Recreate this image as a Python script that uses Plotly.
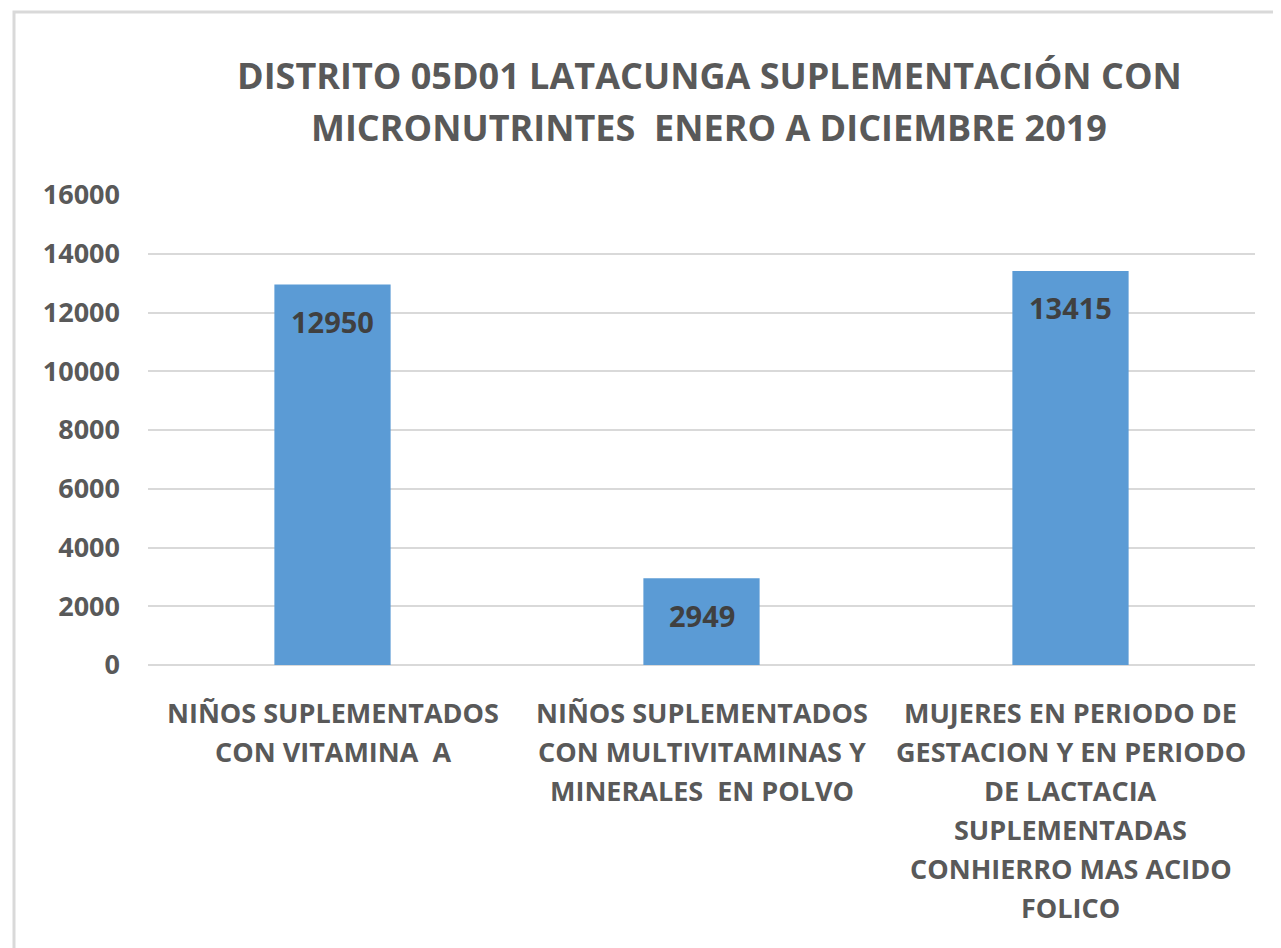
import plotly.graph_objects as go

categories = ["c1", "c2", "c3"]
category_lines = [
    ["NIÑOS SUPLEMENTADOS", "CON VITAMINA  A"],
    ["NIÑOS SUPLEMENTADOS", "CON MULTIVITAMINAS Y", "MINERALES  EN POLVO"],
    ["MUJERES EN PERIODO DE", "GESTACION Y EN PERIODO", "DE LACTACIA",
     "SUPLEMENTADAS", "CONHIERRO MAS ACIDO", "FOLICO"],
]
values = [12950, 2949, 13415]
y_ticks = [0, 2000, 4000, 6000, 8000, 10000, 12000, 14000, 16000]
title_lines = ["DISTRITO 05D01 LATACUNGA SUPLEMENTACIÓN CON",
               "MICRONUTRINTES  ENERO A DICIEMBRE 2019"]

FONT = "Open Sans"
GRAY = "#595959"

# page body has an 8px margin, so the figure is offset by 8px
W, H = 1273, 940
L, R, T, B = 140, 26, 187, 283
pw, ph = W - L - R, H - T - B


def px_x(p):
    return (p - L) / pw


def px_y(p):
    return (H - B - p) / ph


fig = go.Figure()
fig.add_trace(go.Bar(
    x=categories, y=values,
    marker=dict(color="#5B9BD5", line=dict(width=0)),
    width=0.315,
    hoverinfo="skip",
))

annotations = []
for c, v in zip(categories, values):
    annotations.append(dict(
        x=c, y=v, xref="x", yref="y", text=str(v), showarrow=False,
        yanchor="middle", yshift=-37,
        font=dict(family=FONT, size=29, color="#404040", weight="bold"),
    ))
for c, lines in zip(categories, category_lines):
    for i, line in enumerate(lines):
        annotations.append(dict(
            x=c, y=0, xref="x", yref="y", text=line, showarrow=False,
            yanchor="middle", yshift=-47 - 39 * i,
            font=dict(family=FONT, size=27, color=GRAY, weight="bold"),
        ))
for i, line in enumerate(title_lines):
    annotations.append(dict(
        x=px_x(709 - 8), y=px_y(75 - 8 + 52 * i), xref="paper", yref="paper",
        text=line, showarrow=False, xanchor="center", yanchor="middle",
        font=dict(family=FONT, size=36, color=GRAY, weight="bold"),
    ))

fig.add_shape(type="rect", xref="paper", yref="paper",
              x0=px_x(14 - 8), x1=px_x(1295), y0=px_y(965), y1=px_y(12 - 8),
              line=dict(color="#D9D9D9", width=3), layer="below")

fig.update_layout(
    width=W, height=H,
    margin=dict(l=L, r=R, t=T, b=B),
    paper_bgcolor="white", plot_bgcolor="white",
    showlegend=False,
    annotations=annotations,
    xaxis=dict(showticklabels=False, showline=False, showgrid=False,
               range=[-0.5, 2.5], fixedrange=True),
    yaxis=dict(range=[0, 16000], tickvals=y_ticks, ticktext=[str(t) for t in y_ticks],
               showgrid=True, gridcolor="#D9D9D9", gridwidth=1.5,
               zeroline=True, zerolinecolor="#D9D9D9", zerolinewidth=1.5,
               showline=False, ticks="", ticklabelstandoff=27,
               tickfont=dict(family=FONT, size=27, color=GRAY, weight="bold")),
)

fig.write_html("out.html")
